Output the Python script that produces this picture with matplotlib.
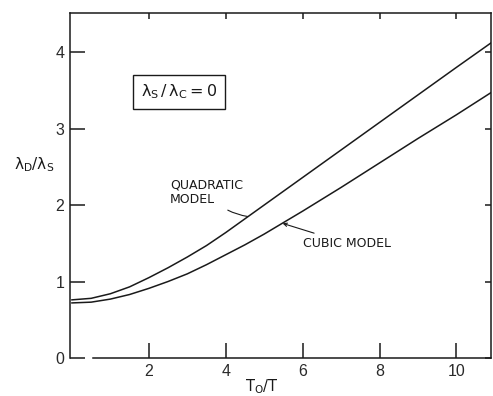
import numpy as np
import matplotlib.pyplot as plt

plt.rcParams['font.family'] = ['DejaVu Sans']
plt.rcParams['mathtext.fontset'] = 'dejavusans'
plt.rcParams['mathtext.default'] = 'regular'

# lambda_D / lambda_S against T_O / T, for lambda_S / lambda_C = 0
t_ratio = [0, 0.5, 1, 1.5, 2, 2.5, 3, 3.5, 4, 4.5, 5, 5.5, 6, 7, 8, 9, 10, 10.9]
quadratic = [0.76, 0.78, 0.84, 0.93, 1.05, 1.18, 1.32, 1.47, 1.64, 1.82,
             2.00, 2.18, 2.36, 2.72, 3.08, 3.44, 3.80, 4.12]
cubic = [0.72, 0.73, 0.77, 0.83, 0.91, 1.00, 1.10, 1.22, 1.35, 1.48,
         1.62, 1.77, 1.92, 2.23, 2.55, 2.87, 3.18, 3.47]

x_ticks = [2, 4, 6, 8, 10]
y_ticks = [0, 1, 2, 3, 4]

fig = plt.figure(figsize=(4.93, 3.96), dpi=100)
ax = fig.add_axes([0.142, 0.096, 0.854, 0.871])

ink = '#1a1a1a'
ax.plot(t_ratio, quadratic, color=ink, lw=1.1)
ax.plot(t_ratio, cubic, color=ink, lw=1.1)

ax.set_xlim(-0.05, 10.9)
ax.set_ylim(0, 4.51)
ax.set_xticks(x_ticks)
ax.set_yticks(y_ticks)

num_font = ['Liberation Sans', 'DejaVu Sans']
for lab in ax.get_xticklabels() + ax.get_yticklabels():
    lab.set_family(num_font)
    lab.set_fontsize(11.5)
    lab.set_color('#2a2a2a')

ax.tick_params(direction='in', length=11, width=1.1, color=ink,
               top=True, right=True, pad=4)
for tk in ax.xaxis.get_major_ticks() + ax.yaxis.get_major_ticks():
    tk.tick2line.set_markersize(4)

for side in ax.spines.values():
    side.set_color(ink)
    side.set_linewidth(1.1)
ax.spines['bottom'].set_bounds(0.55, 10.9)

ax.text(-0.085, 0.56, r'$\lambda_D/\lambda_S$', transform=ax.transAxes,
        ha='center', va='center', fontsize=11, color=ink)
ax.text(0.456, -0.082, r'$T_O/T$', transform=ax.transAxes,
        ha='center', va='center', fontsize=10.5, color=ink)

ax.text(2.78, 3.48, r'$\lambda_S\,/\,\lambda_C = 0$', ha='center', va='center',
        fontsize=11.5, color=ink,
        bbox=dict(boxstyle='square,pad=0.5', fc='white', ec=ink, lw=1.0))

ax.annotate('QUADRATIC\nMODEL', xy=(4.57, 1.85), xytext=(2.55, 2.17),
            ha='left', va='center', fontsize=9, color=ink, linespacing=1.2,
            arrowprops=dict(arrowstyle='-', color=ink, lw=0.8,
                            shrinkA=2, shrinkB=0,
                            connectionstyle='arc3,rad=0.2'))
ax.annotate('CUBIC MODEL', xy=(5.48, 1.76), xytext=(6.0, 1.50),
            ha='left', va='center', fontsize=9, color=ink,
            arrowprops=dict(arrowstyle='->', color=ink, lw=0.8,
                            shrinkA=2, shrinkB=0, mutation_scale=6))

fig.savefig('out.png', dpi=100)
